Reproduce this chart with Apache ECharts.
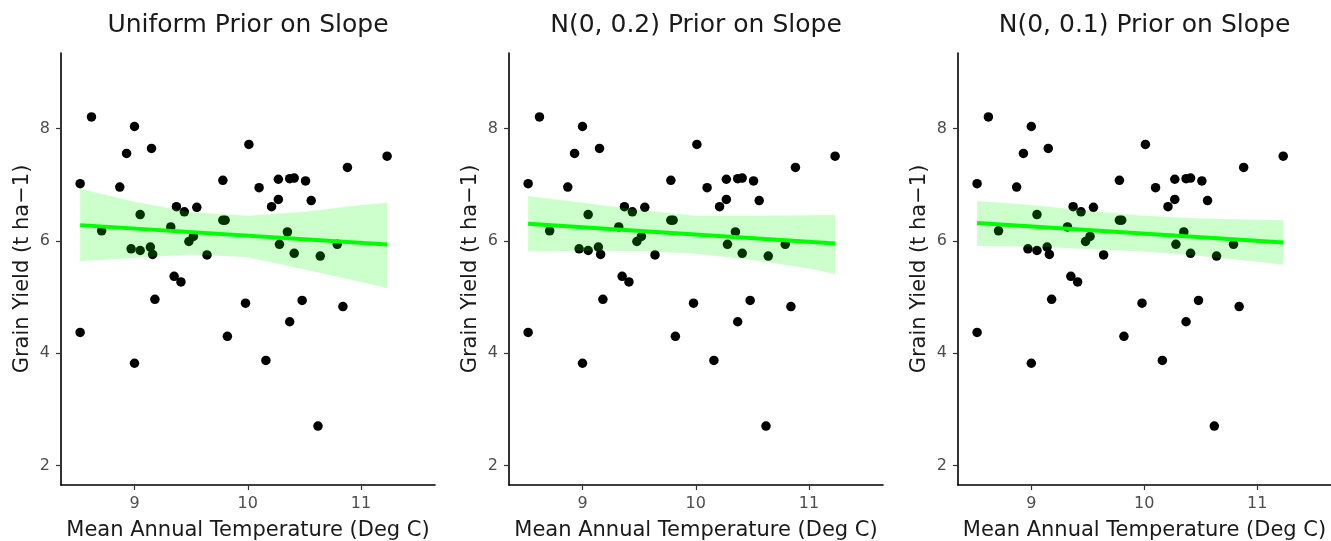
<!DOCTYPE html>
<html>
<head>
<meta charset="utf-8">
<script src="https://cdn.jsdelivr.net/npm/echarts@6/dist/echarts.min.js"></script>
<style>
html,body{margin:0;padding:0;background:#fff;}
#main{width:1331px;height:541px;}
</style>
</head>
<body>
<div id="main"></div>
<script>
// observed data (same in every panel)
var temp = [8.52, 8.62, 9.00, 8.93, 9.15, 8.87, 8.71, 9.05, 8.97, 9.05, 9.14, 9.16, 9.32, 9.37, 9.44, 9.55, 9.48, 9.52, 9.64, 9.78,
    9.78, 9.80, 10.01, 10.10, 10.21, 10.27, 10.27, 10.37, 10.41, 10.51, 10.56, 10.88, 11.23, 10.35, 10.28, 10.41, 10.64, 10.79,
    8.52, 9.00, 9.18, 9.35, 9.41, 9.82, 9.98, 10.16, 10.37, 10.48, 10.84, 10.62]
var grainYield = [7.02, 8.21, 8.04, 7.56, 7.65, 6.96, 6.18, 6.47, 5.86, 5.83, 5.89, 5.76, 6.25, 6.61, 6.52, 6.60, 5.99, 6.08, 5.75, 7.08,
    6.37, 6.37, 7.72, 6.95, 6.61, 6.74, 7.10, 7.11, 7.12, 7.07, 6.72, 7.31, 7.51, 6.16, 5.94, 5.78, 5.73, 5.94,
    4.37, 3.82, 4.96, 5.37, 5.27, 4.30, 4.89, 3.87, 4.56, 4.94, 4.83, 2.70]

var titles = ['Uniform Prior on Slope', 'N(0, 0.2) Prior on Slope', 'N(0, 0.1) Prior on Slope']

// credible band, read at these temperatures
var bandX = [8.52, 9.0, 9.5, 10.0, 10.5, 11.0, 11.23]
var bandLo = [
    [5.64, 5.70, 5.76, 5.71, 5.49, 5.27, 5.155],
    [5.81, 5.825, 5.82, 5.77, 5.66, 5.51, 5.41],
    [5.91, 5.90, 5.855, 5.81, 5.73, 5.63, 5.575]
]
var bandHi = [
    [6.93, 6.70, 6.51, 6.45, 6.52, 6.64, 6.68],
    [6.80, 6.68, 6.55, 6.45, 6.45, 6.46, 6.465],
    [6.71, 6.64, 6.54, 6.45, 6.40, 6.38, 6.37]
]
// fitted line ends
var fitX = [8.52, 11.23]
var fitY = [
    [6.282, 5.938],
    [6.305, 5.955],
    [6.318, 5.974]
]

var xTicks = [9, 10, 11]
var yTicks = [2, 4, 6, 8]

var chart = {
    font: '"DejaVu Sans", Arial, Helvetica, sans-serif',
    lefts: [61, 509, 958],
    init(){
        this.myChart = echarts.init(document.getElementById('main'))
        var opt = {
            animation: false,
            backgroundColor: '#fff',
            grid: [], xAxis: [], yAxis: [], series: [], graphic: []
        }
        for (var i = 0; i < 3; i++) {
            this.addPanel(opt, i)
        }
        this.myChart.setOption(opt)
    },
    addPanel(opt, i){
        var self = this
        var left = this.lefts[i]
        var width = i == 2 ? 373 : 374
        opt.grid.push({left: left, top: 53, width: width, height: 432, containLabel: false, outerBoundsMode: 'none'})
        opt.xAxis.push({
            type: 'value', gridIndex: i, min: 8.351, max: 11.653,
            name: 'Mean Annual Temperature (Deg C)', nameLocation: 'middle', nameGap: 35,
            nameTextStyle: {fontSize: 21, color: '#1a1a1a', fontFamily: self.font},
            splitLine: {show: false},
            axisLine: {onZero: false, lineStyle: {color: '#000', width: 1.6}},
            axisTick: {length: 5, lineStyle: {color: '#333', width: 1.2}, customValues: xTicks},
            axisLabel: {fontSize: 16, color: '#4d4d4d', margin: 11, fontFamily: self.font, customValues: xTicks}
        })
        opt.yAxis.push({
            type: 'value', gridIndex: i, min: 1.65, max: 9.35,
            name: 'Grain Yield (t ha\u22121)', nameLocation: 'middle', nameGap: 28,
            nameTextStyle: {fontSize: 21, color: '#1a1a1a', fontFamily: self.font},
            splitLine: {show: false},
            axisLine: {onZero: false, lineStyle: {color: '#000', width: 1.6}},
            axisTick: {length: 5, lineStyle: {color: '#333', width: 1.2}, customValues: yTicks},
            axisLabel: {fontSize: 16, color: '#4d4d4d', margin: 11, fontFamily: self.font, customValues: yTicks}
        })
        var pts = temp.map(function(t, k){ return [t, grainYield[k]] })
        opt.series.push({
            type: 'scatter', xAxisIndex: i, yAxisIndex: i,
            symbolSize: 9.5, itemStyle: {color: '#000', opacity: 1},
            data: pts, z: 2
        })
        var lo = bandLo[i], hi = bandHi[i]
        opt.series.push({
            type: 'custom', xAxisIndex: i, yAxisIndex: i, z: 3,
            data: bandX.map(function(x, k){ return [x, lo[k], hi[k]] }),
            encode: {x: 0, y: [1, 2]},
            renderItem(params, api){
                if (params.dataIndex !== 0) return
                var top = [], bottom = []
                for (var k = 0; k < bandX.length; k++) {
                    top.push(api.coord([bandX[k], hi[k]]))
                    bottom.unshift(api.coord([bandX[k], lo[k]]))
                }
                return {
                    type: 'polygon',
                    shape: {points: top.concat(bottom)},
                    style: {fill: 'rgba(0,255,0,0.2)'}
                }
            }
        })
        opt.series.push({
            type: 'line', xAxisIndex: i, yAxisIndex: i, z: 4,
            symbol: 'none', lineStyle: {color: '#00ff00', width: 4},
            data: fitX.map(function(x, k){ return [x, fitY[i][k]] })
        })
        opt.graphic.push({
            type: 'text', x: left + width / 2, y: 25,
            style: {text: titles[i], fill: '#1a1a1a', fontSize: 25, fontFamily: self.font, align: 'center', verticalAlign: 'middle'}
        })
    }
}
chart.init()
</script>
</body>
</html>
